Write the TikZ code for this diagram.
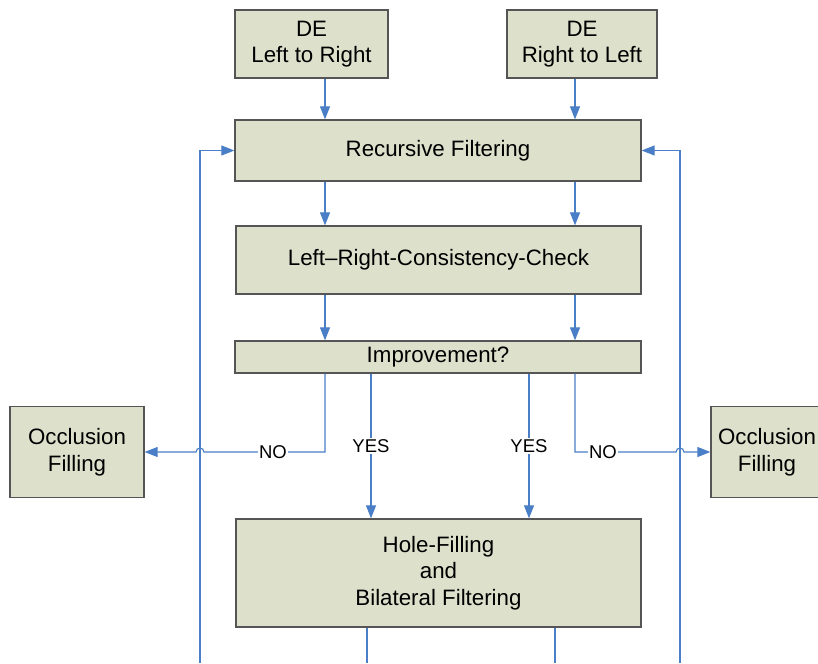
\documentclass[tikz,border=0pt]{standalone}
\usepackage{fontspec}
\setmainfont{Liberation Sans}
\usetikzlibrary{arrows.meta}
\definecolor{boxfill}{HTML}{DDE0CB}
\definecolor{boxline}{HTML}{555555}
\definecolor{flow}{HTML}{4A7EC6}
\begin{document}
\begin{tikzpicture}[x=1pt,y=-1pt,
  box/.style={draw=boxline,line width=1.3pt,fill=boxfill,inner sep=0pt,align=center,
    font=\fontsize{22.3}{26.5}\selectfont},
  flowline/.style={draw=flow,line width=1.1pt},
  arr/.style={flowline,-{Triangle[length=13pt,width=10pt]}},
  lbl/.style={fill=white,inner sep=1pt,font=\fontsize{18.5}{20}\selectfont}]
\clip (0,0) rectangle (818,663);
\node[box,minimum width=153pt,minimum height=68pt] (de1) at (311.5,44) {DE\\Left to Right};
\node[box,minimum width=150pt,minimum height=68pt] (de2) at (582,44) {DE\\Right to Left};
\node[box,minimum width=406pt,minimum height=61pt] (rf) at (438,150.5) {Recursive Filtering};
\node[box,minimum width=405pt,minimum height=68pt] (lr) at (438.5,260) {Left–Right-Consistency-Check};
\node[box,minimum width=406pt,minimum height=32pt] (imp) at (438,357) {Improvement?};
\node[box,minimum width=134pt,minimum height=91pt] (occL) at (77,452) {Occlusion\\Filling};
\node[box,minimum width=119pt,minimum height=91pt,text width=119pt] (occR) at (770.5,452) {\hspace*{-7pt}Occlusion\\\hspace*{-7pt}Filling};
\node[box,minimum width=405pt,minimum height=108pt] (hf) at (438.5,573) {Hole-Filling\\and\\Bilateral Filtering};
% column coordinates
\coordinate (cL) at (325,0);
\coordinate (cR) at (575,0);
\coordinate (cY1) at (371,0);
\coordinate (cY2) at (529,0);
\coordinate (fbL) at (200,663);
\coordinate (fbR) at (680,663);
\coordinate (outL) at (367,663);
\coordinate (outR) at (555,663);
% arrows
\draw[arr] (de1.south -| cL) -- (rf.north -| cL);
\draw[arr] (de2.south -| cR) -- (rf.north -| cR);
\draw[arr] (rf.south -| cL) -- (lr.north -| cL);
\draw[arr] (rf.south -| cR) -- (lr.north -| cR);
\draw[arr] (lr.south -| cL) -- (imp.north -| cL);
\draw[arr] (lr.south -| cR) -- (imp.north -| cR);
% feedback
\draw[arr] (fbL) |- (rf.west);
\draw[arr] (fbR) |- (rf.east);
% YES
\draw[arr] (imp.south -| cY1) -- node[lbl,pos=0.5]{YES} (hf.north -| cY1);
\draw[arr] (imp.south -| cY2) -- node[lbl,pos=0.5]{YES} (hf.north -| cY2);
% NO
\draw[arr] (imp.south -| cL) -- (325,452) -- (204,452) arc[start angle=0,end angle=180,radius=4pt] -- (occL.east);
\node[lbl] (noL) at (273,452) {NO};
\draw[arr] (imp.south -| cR) -- (575,452) -- (676,452) arc[start angle=180,end angle=0,radius=4pt] -- (occR.west);
\node[lbl] (noR) at (603,452) {NO};
% outputs
\draw[flowline] (hf.south -| outL) -- (outL);
\draw[flowline] (hf.south -| outR) -- (outR);
\end{tikzpicture}
\end{document}
